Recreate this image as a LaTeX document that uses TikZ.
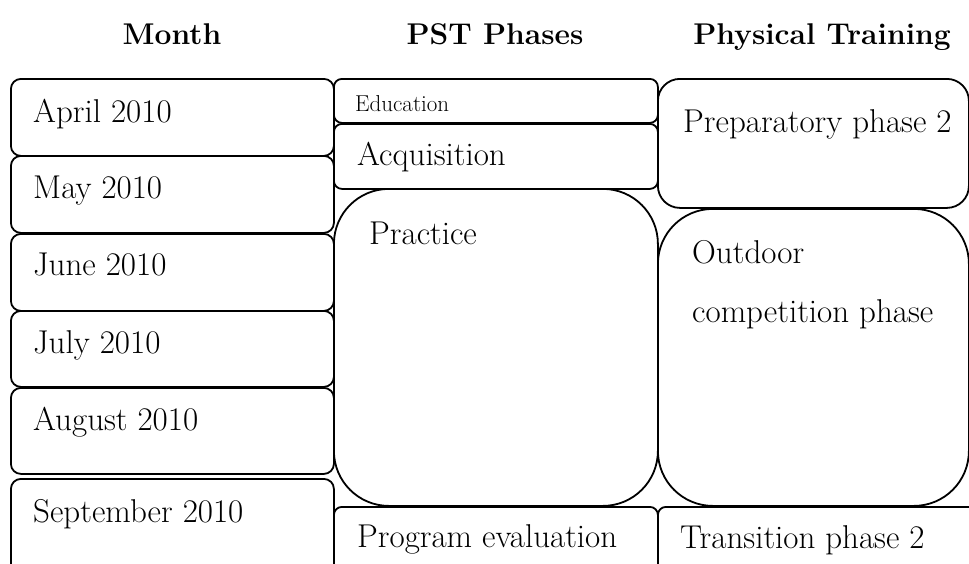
\documentclass[tikz,border=0pt]{standalone}
\begin{document}
\begin{tikzpicture}[x=1pt,y=-1pt,
    cell/.style={draw,line width=1.8pt,anchor=north west,inner sep=0pt},
    txt/.style={anchor=base west,inner sep=0pt,font=\fontsize{33}{40}\selectfont},
    head/.style={anchor=base,inner sep=0pt,font=\fontsize{30}{36}\selectfont\bfseries}]
    \useasboundingbox (0,0) rectangle (969,563);
    \clip (0,0) rectangle (969,563);

    \node[head] (hmonth) at (172,44) {Month};
    \node[head] (hpst) at (495,44) {PST Phases};
    \node[head] (htrain) at (822,44) {Physical Training};

    % months
    \node[cell,rounded corners=10pt,minimum width=323pt,minimum height=77pt] (apr) at (10,78) {};
    \node[cell,rounded corners=10pt,minimum width=323pt,minimum height=77pt] (may) at (10,155) {};
    \node[cell,rounded corners=10pt,minimum width=323pt,minimum height=77pt] (jun) at (10,233) {};
    \node[cell,rounded corners=10pt,minimum width=323pt,minimum height=76pt] (jul) at (10,310) {};
    \node[cell,rounded corners=10pt,minimum width=323pt,minimum height=86pt] (aug) at (10,387) {};
    \node[cell,rounded corners=10pt,minimum width=323pt,minimum height=110pt] (sep) at (10,478) {};

    \node[txt] (aprtxt) at (33,122) {April 2010};
    \node[txt] (maytxt) at (33,198) {May 2010};
    \node[txt] (juntxt) at (33,275) {June 2010};
    \node[txt] (jultxt) at (33,353) {July 2010};
    \node[txt] (augtxt) at (33,430) {August 2010};
    \node[txt] (septxt) at (33,522) {September 2010};

    % pst phases
    \node[cell,rounded corners=8pt,minimum width=324pt,minimum height=44pt] (edu) at (333,78) {};
    \node[cell,rounded corners=8pt,minimum width=324pt,minimum height=65pt] (acq) at (333,123) {};
    \node[cell,rounded corners=55pt,minimum width=324pt,minimum height=317pt] (prac) at (333,188) {};
    \node[cell,rounded corners=8pt,minimum width=324pt,minimum height=80pt] (eval) at (333,506) {};

    \node[txt,font=\fontsize{23}{28}\selectfont] (edutxt) at (355,111) {Education};
    \node[txt] (acqtxt) at (357,165) {Acquisition};
    \node[txt] (practxt) at (369,244) {Practice};
    \node[txt] (evaltxt) at (357,547) {Program evaluation};

    % physical training
    \node[cell,rounded corners=22pt,minimum width=311pt,minimum height=129pt] (prep) at (657,78) {};
    \node[cell,rounded corners=55pt,minimum width=311pt,minimum height=297pt] (comp) at (657,208) {};
    \node[cell,rounded corners=8pt,minimum width=330pt,minimum height=80pt] (trans) at (657,506) {};

    \node[txt] (preptxt) at (683,132) {Preparatory phase 2};
    \node[txt] (comptxt) at (692,263) {Outdoor};
    \node[txt] (comptxt2) at (692,322) {competition phase};
    \node[txt] (transtxt) at (680,548) {Transition phase 2};
\end{tikzpicture}
\end{document}
